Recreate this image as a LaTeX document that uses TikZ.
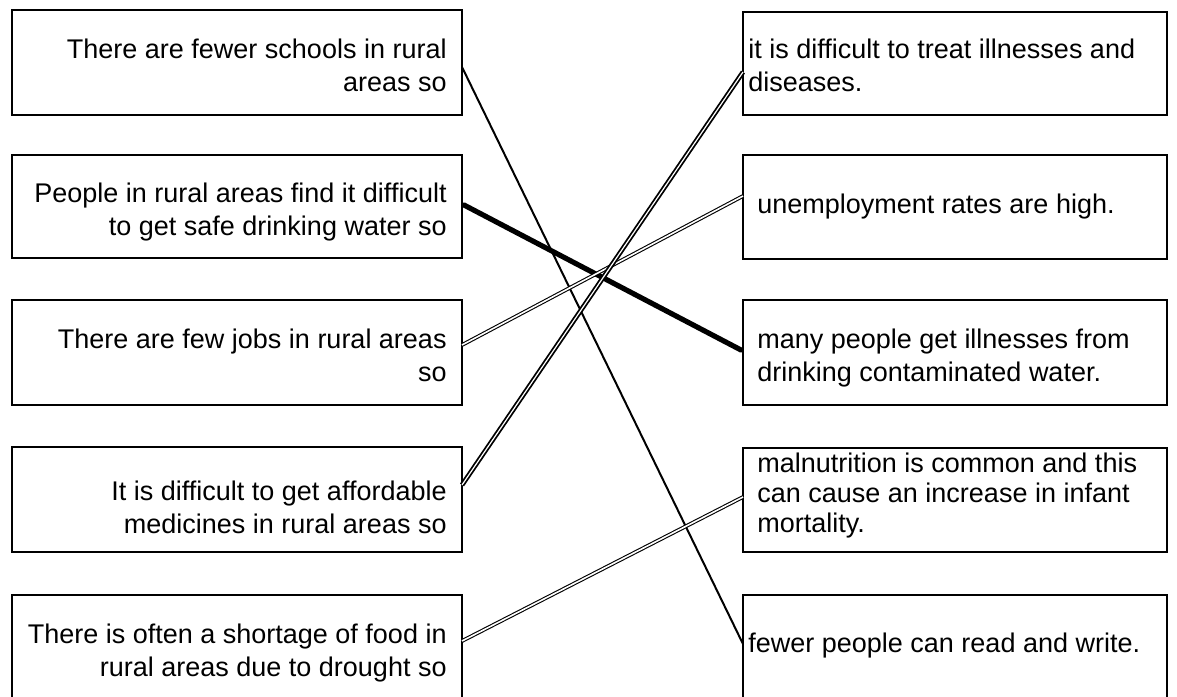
\documentclass[tikz,border=0pt]{standalone}
\usepackage{fontspec}
\setmainfont{Liberation Sans}
\usetikzlibrary{calc}
\begin{document}
\begin{tikzpicture}[x=0.5pt,y=-0.5pt,
  box/.style={draw=black, line width=1pt, rectangle, inner sep=0pt, outer sep=0pt, anchor=north west},
  lbox/.style={box, minimum width=225pt},
  rbox/.style={box, minimum width=212pt},
  ltext/.style={anchor=north east, align=right, inner sep=0pt, font=\fontsize{13.5}{16.5}\selectfont},
  rtext/.style={anchor=north west, align=left, inner sep=0pt, font=\fontsize{13.5}{16.5}\selectfont},
  plainlink/.style={line width=1pt},
  heavylink/.style={line width=2.6pt, line cap=round},
  dbllink/.style={double=white, line width=0.55pt, double distance=0.8pt},
  dblheavy/.style={double=white, line width=0.9pt, double distance=0.6pt}
]
\path[fill=white, use as bounding box] (0,0) rectangle (1177,696);

% left column
\node[lbox, minimum height=52.5pt] (L1) at (12,10) {};
\node[lbox, minimum height=51.5pt] (L2) at (12,155) {};
\node[lbox, minimum height=52.5pt] (L3) at (12,300) {};
\node[lbox, minimum height=52.5pt] (L4) at (12,447) {};
\node[lbox, minimum height=62.5pt] (L5) at (12,595) {};

% right column
\node[rbox, minimum height=51.5pt] (R1) at (743,12) {};
\node[rbox, minimum height=52pt] (R2) at (743,155) {};
\node[rbox, minimum height=52.5pt] (R3) at (743,300) {};
\node[rbox, minimum height=52pt] (R4) at (743,448) {};
\node[rbox, minimum height=62.5pt] (R5) at (743,595) {};

% left texts
\node[ltext] (tL1) at (447,35) {\strut There are fewer schools in rural\\\strut areas so};
\node[ltext] (tL2) at (447,179) {\strut People in rural areas find it difficult\\\strut to get safe drinking water so};
\node[ltext] (tL3) at (447,325) {\strut There are few jobs in rural areas\\\strut so};
\node[ltext] (tL4) at (447,477) {\strut It is difficult to get affordable\\\strut medicines in rural areas so};
\node[ltext] (tL5) at (447,620) {\strut There is often a shortage of food in\\\strut rural areas due to drought so};

% right texts
\node[rtext] (tR1) at (748,35) {\strut it is difficult to treat illnesses and\\\strut diseases.};
\node[rtext] (tR2) at (757,190) {\strut unemployment rates are high.};
\node[rtext] (tR3) at (757,325) {\strut many people get illnesses from\\\strut drinking contaminated water.};
\node[rtext, font=\fontsize{13.5}{15}\selectfont] (tR4) at (757,451) {\strut malnutrition is common and this\\\strut can cause an increase in infant\\\strut mortality.};
\node[rtext] (tR5) at (748,629) {\strut fewer people can read and write.};

% connectors
\draw[plainlink] ($(L1.north east)+(0,57)$) -- ($(R5.north west)+(0,49)$);
\draw[heavylink] ($(L2.north east)+(2,50)$) -- ($(R3.north west)+(-2,50)$);
\draw[dbllink] ($(L3.north east)+(0,45)$) -- ($(R2.north west)+(0,41)$);
\draw[dblheavy] ($(L4.north east)+(0,38)$) -- ($(R1.north west)+(0,60)$);
\draw[dbllink] ($(L5.north east)+(0,46)$) -- ($(R4.north west)+(0,49)$);
\end{tikzpicture}
\end{document}
